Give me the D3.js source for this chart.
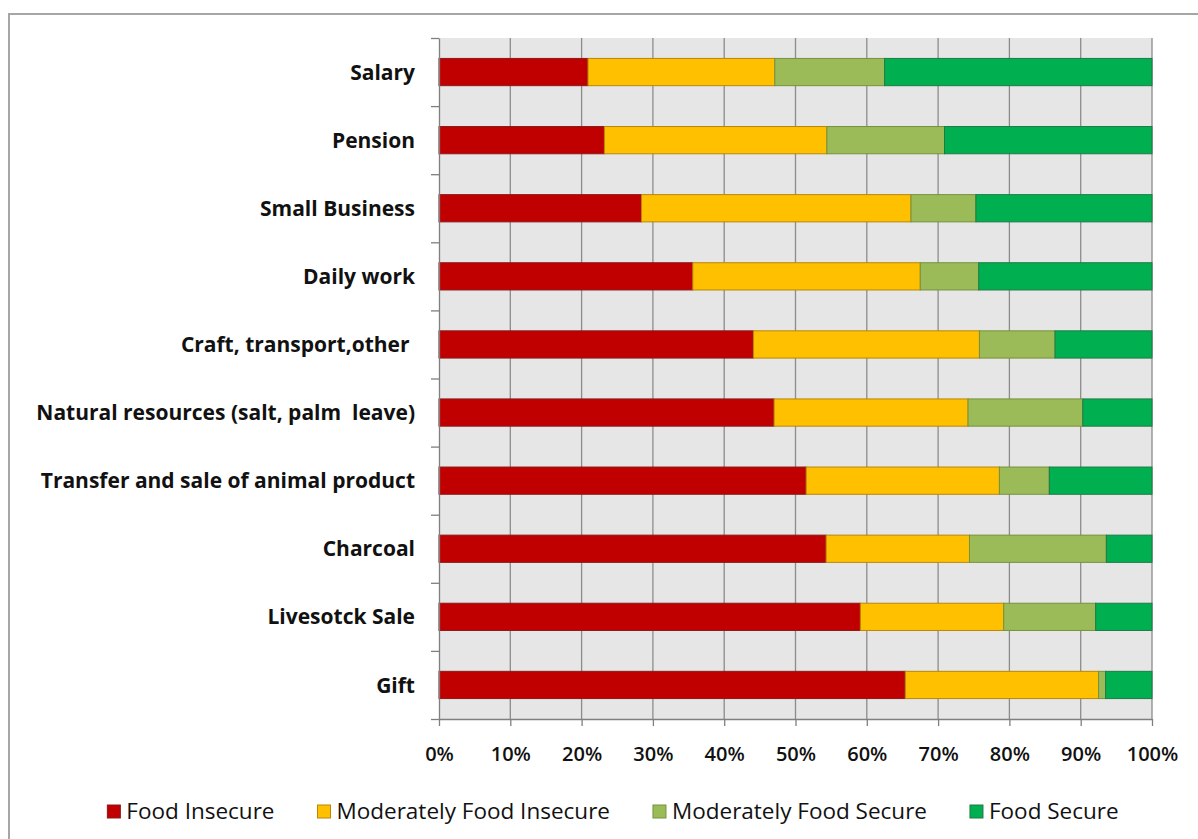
<!DOCTYPE html>
<html>
<head>
<meta charset="utf-8">
<script src="https://cdn.jsdelivr.net/npm/d3@7"></script>
<style>
  html, body { margin: 0; padding: 0; background: #ffffff; }
  svg { display: block; }
</style>
</head>
<body>
<svg id="chart" width="1198" height="839"></svg>
<script>
// Income sources, top to bottom
const categories = [
  "Salary",
  "Pension",
  "Small Business",
  "Daily work",
  "Craft, transport,other ",
  "Natural resources (salt, palm  leave)",
  "Transfer and sale of animal product",
  "Charcoal",
  "Livesotck Sale",
  "Gift"
];

// Share of households (%) in each food security class
const foodInsecure         = [20.9, 23.2, 28.4, 35.6, 44.1, 47.0, 51.5, 54.3, 59.1, 65.4];
const moderatelyInsecure   = [26.2, 31.2, 37.8, 31.9, 31.7, 27.2, 27.1, 20.1, 20.1, 27.1];
const moderatelySecure     = [15.4, 16.5,  9.1,  8.2, 10.6, 16.1,  7.0, 19.2, 12.9,  1.0];
const foodSecure           = [37.5, 29.1, 24.7, 24.3, 13.6,  9.7, 14.4,  6.4,  7.9,  6.5];

const seriesNames = ["Food Insecure", "Moderately Food Insecure", "Moderately Food Secure", "Food Secure"];
const seriesValues = [foodInsecure, moderatelyInsecure, moderatelySecure, foodSecure];
const xTicks = [0, 10, 20, 30, 40, 50, 60, 70, 80, 90, 100];

const colors = ["#C00000", "#FFC000", "#9BBB59", "#00B050"];
const strokes = ["#8a1a1a", "#b8860b", "#76923c", "#1e7a45"];

const svg = d3.select("#chart");
const FONT = "'Open Sans', Lato, sans-serif";

// Outer chart frame
svg.append("rect")
  .attr("x", 9).attr("y", 14)
  .attr("width", 1240).attr("height", 860)
  .attr("fill", "none")
  .attr("stroke", "#a6a6a6")
  .attr("stroke-width", 2);

const plot = { left: 439, right: 1152, top: 38, bottom: 719 };

const x = d3.scaleLinear().domain([0, 100]).range([plot.left, plot.right]);
const y = d3.scaleBand().domain(categories)
  .range([plot.top, plot.bottom])
  .paddingInner(0.6).paddingOuter(0.3);
const yEdge = d3.scaleLinear().domain([0, categories.length]).range([plot.top, plot.bottom]);

// Plot background
svg.append("rect")
  .attr("x", plot.left).attr("y", plot.top)
  .attr("width", plot.right - plot.left).attr("height", plot.bottom - plot.top)
  .attr("fill", "#e6e6e6");

// Vertical gridlines
svg.append("g")
  .selectAll("line")
  .data(xTicks.slice(1))
  .join("line")
  .attr("x1", d => x(d)).attr("x2", d => x(d))
  .attr("y1", plot.top).attr("y2", plot.bottom)
  .attr("stroke", "#8c8c8c")
  .attr("stroke-width", 1.3);

// Stacked data
const rows = categories.map((c, i) => {
  const r = { category: c };
  seriesNames.forEach((s, j) => { r[s] = seriesValues[j][i]; });
  return r;
});
const stacked = d3.stack().keys(seriesNames)(rows);

svg.append("g")
  .selectAll("g")
  .data(stacked)
  .join("g")
  .attr("fill", (d, i) => colors[i])
  .attr("stroke", (d, i) => strokes[i])
  .attr("stroke-width", 1)
  .selectAll("rect")
  .data(d => d)
  .join("rect")
  .attr("x", d => x(d[0]))
  .attr("width", d => x(d[1]) - x(d[0]))
  .attr("y", d => y(d.data.category))
  .attr("height", y.bandwidth());

// X axis
const xAxis = svg.append("g")
  .attr("transform", `translate(0,${plot.bottom})`)
  .call(d3.axisBottom(x).tickValues(xTicks).tickFormat(d => d + "%").tickSize(7).tickSizeOuter(0));
xAxis.select(".domain").attr("stroke", "#7f7f7f").attr("stroke-width", 1.3);
xAxis.selectAll(".tick line").attr("stroke", "#7f7f7f").attr("stroke-width", 1.3);
xAxis.selectAll("text")
  .attr("dy", 0).attr("y", 42)
  .attr("font-family", FONT).attr("font-size", 20).attr("font-weight", 600)
  .attr("fill", "#111");

// Y axis with ticks on category boundaries
const yAxis = svg.append("g")
  .attr("transform", `translate(${plot.left},0)`)
  .call(d3.axisLeft(yEdge).tickValues(d3.range(categories.length + 1)).tickFormat("").tickSize(8).tickSizeOuter(0));
yAxis.select(".domain").attr("stroke", "#7f7f7f").attr("stroke-width", 1.3);
yAxis.selectAll(".tick line").attr("stroke", "#7f7f7f").attr("stroke-width", 1.3);

// Category labels
svg.append("g")
  .selectAll("text")
  .data(categories)
  .join("text")
  .attr("x", 415)
  .attr("y", d => y(d) + y.bandwidth() / 2)
  .attr("dy", "0.36em")
  .attr("text-anchor", "end")
  .attr("font-family", FONT).attr("font-size", 21).attr("font-weight", 700)
  .attr("fill", "#111")
  .style("white-space", "pre")
  .text(d => d);

// Legend
const legend = svg.append("g").attr("transform", "translate(0,811)");
const items = legend.selectAll("g")
  .data(seriesNames)
  .join("g");
items.append("rect")
  .attr("x", 0).attr("y", -6)
  .attr("width", 13).attr("height", 13)
  .attr("fill", (d, i) => colors[i])
  .attr("stroke", (d, i) => strokes[i]);
items.append("text")
  .attr("x", 19).attr("dy", "0.36em")
  .attr("font-family", FONT).attr("font-size", 22.5).attr("font-weight", 500)
  .attr("fill", "#111")
  .text(d => d);
let cursor = 0;
const widths = [];
items.each(function() { widths.push(this.getBBox().width); });
const gap = 43;
const total = d3.sum(widths) + gap * (widths.length - 1);
cursor = 613 - total / 2;
items.attr("transform", (d, i) => {
  const t = `translate(${cursor},0)`;
  cursor += widths[i] + gap;
  return t;
});
</script>
</body>
</html>
